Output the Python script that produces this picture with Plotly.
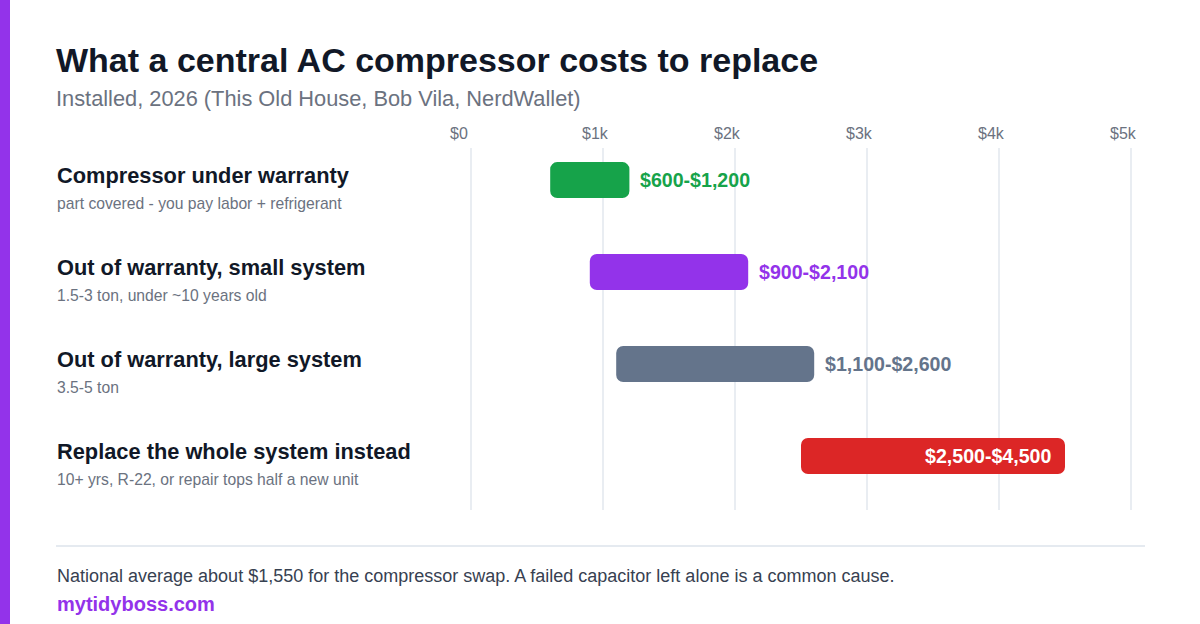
import plotly.graph_objects as go

# ---- data ----
categories = ["Compressor under warranty", "Out of warranty, small system",
              "Out of warranty, large system", "Replace the whole system instead"]
subtitles = ["part covered - you pay labor + refrigerant", "1.5-3 ton, under ~10 years old",
             "3.5-5 ton", "10+ yrs, R-22, or repair tops half a new unit"]
low_cost = [600, 900, 1100, 2500]
high_cost = [1200, 2100, 2600, 4500]
value_labels = ["$600-$1,200", "$900-$2,100", "$1,100-$2,600", "$2,500-$4,500"]
tick_vals = [0, 1000, 2000, 3000, 4000, 5000]
tick_text = ["$0", "$1k", "$2k", "$3k", "$4k", "$5k"]

colors = ["#16a34a", "#9333ea", "#64748b", "#dc2626"]
label_inside = [False, False, False, True]

W, H = 1200, 624
L, R, T, B = 461, 1141, 148, 510
X0_PX, X5_PX = 471, 1131  # pixel positions of $0 and $5k
FONT = "Liberation Sans, Arial, sans-serif"

per_px = (tick_vals[-1] - tick_vals[0]) / (X5_PX - X0_PX)
x_range = [tick_vals[0] - (X0_PX - L) * per_px, tick_vals[-1] + (R - X5_PX) * per_px]

def px_x(px):
    return (px - L) / (R - L)

def px_y(py):
    return (B - py) / (B - T)

ypos = list(range(len(categories)))

fig = go.Figure()
fig.add_trace(go.Bar(
    orientation="h",
    y=ypos,
    x=[h - l for l, h in zip(low_cost, high_cost)],
    base=low_cost,
    width=0.39,
    marker=dict(color=colors, cornerradius=7, line=dict(width=0)),
    hoverinfo="skip",
))

fig.update_layout(
    width=W, height=H,
    margin=dict(l=L, r=W - R, t=T, b=H - B),
    paper_bgcolor="white", plot_bgcolor="white",
    showlegend=False,
    font=dict(family=FONT),
    xaxis=dict(
        range=x_range, side="top", tickvals=tick_vals, ticktext=tick_text,
        showgrid=True, gridcolor="#e9edf2", gridwidth=2, zeroline=False,
        showline=False, ticks="", ticklabelposition="outside right",
        ticklabelshift=-21, ticklabelstandoff=5,
        tickfont=dict(family=FONT, size=16, color="#6b7280"),
        fixedrange=True,
    ),
    yaxis=dict(
        range=[3.587, -0.348], showticklabels=False, showgrid=False,
        zeroline=False, showline=False, ticks="", fixedrange=True,
    ),
)

annotations = []
for i, (c, s) in enumerate(zip(categories, subtitles)):
    annotations.append(dict(
        x=px_x(55), xref="paper", y=i, yref="y", yshift=5, xanchor="left", yanchor="middle",
        text=c, showarrow=False,
        font=dict(family=FONT, size=21.8, color="#111827", weight="bold"),
    ))
    annotations.append(dict(
        x=px_x(55), xref="paper", y=i, yref="y", yshift=-23, xanchor="left", yanchor="middle",
        text=s, showarrow=False,
        font=dict(family=FONT, size=15.7, color="#6b7280"),
    ))

for i, (lo, hi, lab, col, inside) in enumerate(zip(low_cost, high_cost, value_labels, colors, label_inside)):
    if inside:
        annotations.append(dict(
            x=hi, xref="x", y=i, yref="y", xanchor="right", yanchor="middle", xshift=-12,
            text=lab, showarrow=False,
            font=dict(family=FONT, size=19.6, color="#ffffff", weight="bold")))
    else:
        annotations.append(dict(
            x=hi, xref="x", y=i, yref="y", xanchor="left", yanchor="middle", xshift=9,
            text=lab, showarrow=False,
            font=dict(family=FONT, size=19.6, color=col, weight="bold")))

annotations += [
    dict(x=px_x(54), xref="paper", y=px_y(60), yref="paper", xanchor="left", yanchor="middle",
         text="What a central AC compressor costs to replace", showarrow=False,
         font=dict(family=FONT, size=34, color="#111827", weight="bold")),
    dict(x=px_x(54), xref="paper", y=px_y(99), yref="paper", xanchor="left", yanchor="middle",
         text="Installed, 2026 (This Old House, Bob Vila, NerdWallet)", showarrow=False,
         font=dict(family=FONT, size=21.8, color="#6b7280")),
    dict(x=px_x(55), xref="paper", y=px_y(576), yref="paper", xanchor="left", yanchor="middle",
         text="National average about $1,550 for the compressor swap. A failed capacitor left alone is a common cause.",
         showarrow=False, font=dict(family=FONT, size=18, color="#374151")),
    dict(x=px_x(55), xref="paper", y=px_y(604), yref="paper", xanchor="left", yanchor="middle",
         text="mytidyboss.com", showarrow=False,
         font=dict(family=FONT, size=20, color="#9333ea", weight="bold")),
]
fig.update_layout(annotations=annotations)

fig.update_layout(shapes=[
    dict(type="rect", xref="paper", yref="paper", x0=px_x(0), x1=px_x(10),
         y0=px_y(0), y1=px_y(H), fillcolor="#9333ea", line=dict(width=0), layer="above"),
    dict(type="line", xref="paper", yref="paper", x0=px_x(56), x1=px_x(1145),
         y0=px_y(546), y1=px_y(546), line=dict(color="#cbd5e1", width=1)),
])

fig.write_html("out.html", config={"displayModeBar": False},
               post_script="document.body.style.margin='0';")
